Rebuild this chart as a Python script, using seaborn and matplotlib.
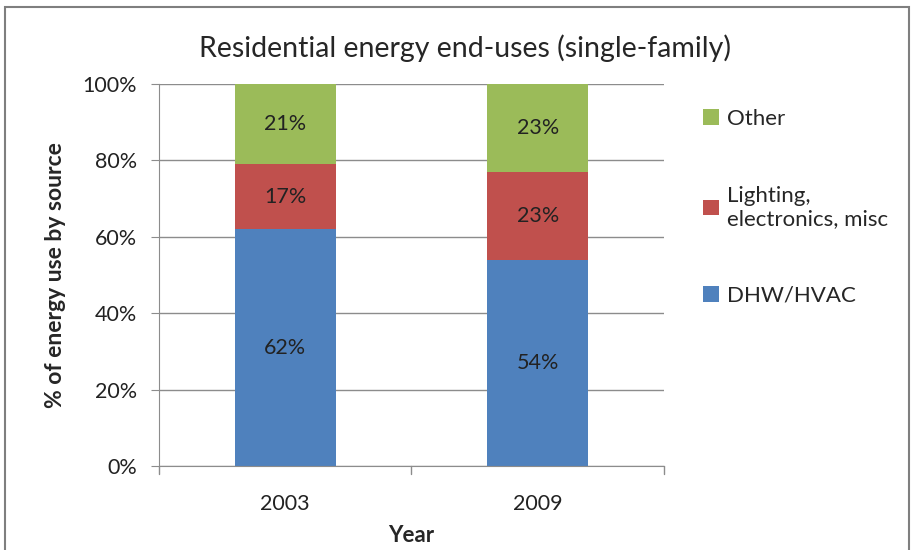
import numpy as np
import pandas as pd
import matplotlib.pyplot as plt
import seaborn as sns
from matplotlib.patches import Rectangle

years = ['2003', '2009']
dhw_hvac = [62, 54]
lighting = [17, 23]
other = [21, 23]
series_names = ['DHW/HVAC', 'Lighting,\nelectronics, misc', 'Other']
colors = ['#4F81BD', '#C0504D', '#9BBB59']

sns.set_style('white')
plt.rcParams['font.family'] = ['Lato', 'DejaVu Sans']

fig = plt.figure(figsize=(9.12, 5.5), dpi=100)
ax = fig.add_axes([159 / 912, 1 - 466 / 550, (664 - 159) / 912, (466 - 84) / 550])

df = pd.DataFrame({'year': years, 'dhw': dhw_hvac, 'light': lighting, 'other': other})
bottom = np.zeros(len(years))
for col, name, c in zip(['dhw', 'light', 'other'], series_names, colors):
    vals = df[col].to_numpy() / 100
    sns.barplot(x=df['year'], y=vals, bottom=bottom, color=c, width=0.4,
                ax=ax, label=name, saturation=1, legend=False, linewidth=0)
    for i, v in enumerate(vals):
        ax.text(i, bottom[i] + v / 2, f'{df[col][i]}%', ha='center', va='center',
                fontsize=15.5, color='#222222')
    bottom = bottom + vals

h, l = ax.get_legend_handles_labels()
if ax.get_legend() is not None:
    ax.get_legend().remove()

ax.set_xlim(-0.5, 1.5)
ax.set_ylim(0, 1)
ticks = np.arange(0, 1.01, 0.2)
ax.set_yticks(ticks)
ax.set_yticklabels([f'{int(round(t * 100))}%' for t in ticks], fontsize=15.5, color='#222222')
ax.set_xticks([0, 1])
ax.set_xticklabels(years, fontsize=15.5, color='#222222')
ax.yaxis.grid(True, color='#8c8c8c', linewidth=1)
ax.set_axisbelow(True)
for s in ['top', 'right']:
    ax.spines[s].set_visible(False)
ax.spines['left'].set_color('#8c8c8c')
ax.spines['bottom'].set_color('#8c8c8c')
ax.tick_params(axis='y', length=6, color='#8c8c8c', left=True, pad=10)
ax.tick_params(axis='x', length=0, pad=20)
# category boundary ticks on x axis
for xb in [-0.5, 0.5, 1.5]:
    ax.plot([xb, xb], [0, -0.022], color='#8c8c8c', lw=1, clip_on=False)

ax.set_xlabel('Year', fontsize=16, fontweight='bold', labelpad=8)
ax.set_ylabel('% of energy use by source', fontsize=16.5, fontweight='bold', labelpad=12)
fig.text(465 / 912, 1 - 48 / 550, 'Residential energy end-uses (single-family)',
         ha='center', va='center', fontsize=20.5)

fig.legend(h[::-1], l[::-1], loc='upper left', bbox_to_anchor=(703 / 912, 1 - 109 / 550),
           frameon=False, fontsize=16, handlelength=0.7, handleheight=0.7,
           handletextpad=0.4, labelspacing=2.55, borderaxespad=0, borderpad=0)

fig.patches.append(Rectangle((5 / 912, -0.05), 904 / 912, 1.05 - 7 / 550,
                             transform=fig.transFigure, fill=False, edgecolor='#7f7f7f', lw=1.5))

fig.savefig('out.png', dpi=100)
